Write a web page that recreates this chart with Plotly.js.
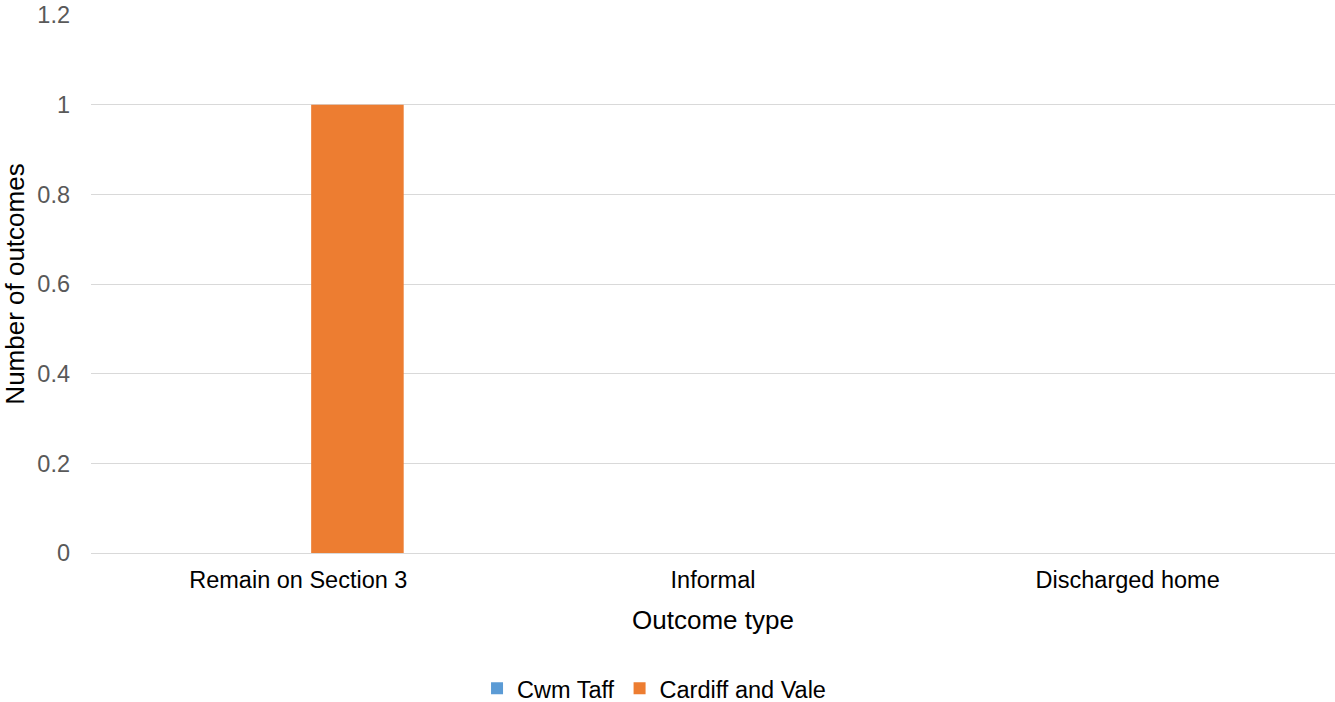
<!DOCTYPE html>
<html>
<head>
<meta charset="utf-8">
<script src="https://cdn.plot.ly/plotly-3.0.1.min.js"></script>
<style>html,body{margin:0;padding:0;background:#fff;}#chart{width:1335px;height:702px;}</style>
</head>
<body>
<div id="chart"></div>
<script>
const categories = ['Remain on Section 3', 'Informal', 'Discharged home'];
const cwmTaff = [0, 0, 0];
const cardiffVale = [1, 0, 0];
const seriesNames = ['Cwm Taff', 'Cardiff and Vale'];
const yTicks = [0, 0.2, 0.4, 0.6, 0.8, 1, 1.2];

const font = 'Liberation Sans, Arial, sans-serif';
const traces = [
  {type: 'bar', name: seriesNames[0], x: categories, y: cwmTaff, marker: {color: '#5B9BD5'}, hoverinfo: 'x+y+name'},
  {type: 'bar', name: seriesNames[1], x: categories, y: cardiffVale, marker: {color: '#ED7D31'}, hoverinfo: 'x+y+name'}
];
const layout = {
  width: 1335, height: 702,
  margin: {l: 91, r: 0, t: 15, b: 149, autoexpand: false},
  paper_bgcolor: '#fff', plot_bgcolor: '#fff',
  font: {family: font, size: 23.5, color: '#000'},
  barmode: 'group',
  bargap: 0.43,
  bargroupgap: 0.217,
  showlegend: true,
  legend: {orientation: 'h', x: 0.4526, xanchor: 'center', y: -0.252, yanchor: 'middle', font: {family: font, size: 23.5, color: '#000'}, itemwidth: 30, traceorder: 'normal'},
  xaxis: {
    type: 'category', showgrid: false, showline: false, zeroline: false,
    ticks: '', ticklabelstandoff: 10,
    tickfont: {family: font, size: 23.5, color: '#000'},
    title: {text: 'Outcome type', font: {family: font, size: 26, color: '#000'}, standoff: 19}
  },
  yaxis: {
    range: [0, 1.2], tickvals: yTicks, showgrid: true, gridcolor: '#D9D9D9', gridwidth: 1.3,
    zeroline: true, zerolinecolor: '#D9D9D9', zerolinewidth: 1.3, showline: false,
    ticks: '', ticklabelstandoff: 20,
    tickfont: {family: font, size: 23.5, color: '#595959'},
    title: {text: 'Number of outcomes', font: {family: font, size: 26, color: '#000'}, standoff: 12}
  }
};
Plotly.newPlot('chart', traces, layout, {displayModeBar: false, staticPlot: false});
</script>
</body>
</html>
